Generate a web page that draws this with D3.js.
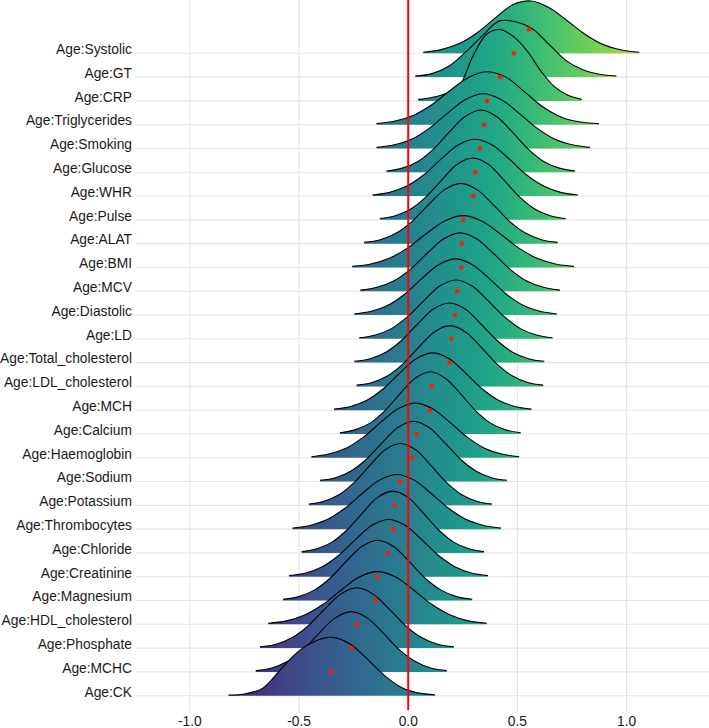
<!DOCTYPE html>
<html>
<head>
<meta charset="utf-8">
<script src="https://cdn.jsdelivr.net/npm/d3@7"></script>
<style>
html,body{margin:0;padding:0;background:#fff;}
svg{display:block;}
text{font-family:"Liberation Sans",Arial,Helvetica,sans-serif;}
</style>
</head>
<body>
<svg id="chart" width="709" height="728"></svg>
<script>
// ---------------- data ----------------
const categories = ["Age:Systolic","Age:GT","Age:CRP","Age:Triglycerides","Age:Smoking","Age:Glucose","Age:WHR","Age:Pulse","Age:ALAT","Age:BMI","Age:MCV","Age:Diastolic","Age:LD","Age:Total_cholesterol","Age:LDL_cholesterol","Age:MCH","Age:Calcium","Age:Haemoglobin","Age:Sodium","Age:Potassium","Age:Thrombocytes","Age:Chloride","Age:Creatinine","Age:Magnesium","Age:HDL_cholesterol","Age:Phosphate","Age:MCHC","Age:CK"];

// range of each ridge (estimate)
const lowerBounds = [0.069,0.032,0.046,-0.145,-0.145,-0.099,-0.163,-0.130,-0.202,-0.256,-0.219,-0.247,-0.224,-0.247,-0.236,-0.340,-0.313,-0.443,-0.404,-0.455,-0.530,-0.488,-0.545,-0.573,-0.641,-0.679,-0.698,-0.823];
const upperBounds = [1.058,0.953,0.794,0.874,0.832,0.764,0.776,0.721,0.684,0.759,0.695,0.680,0.661,0.623,0.618,0.564,0.515,0.508,0.452,0.383,0.425,0.347,0.365,0.293,0.359,0.209,0.176,0.122];

// mean of each distribution (red points)
const means = [0.553,0.483,0.421,0.361,0.348,0.328,0.307,0.298,0.252,0.245,0.243,0.224,0.214,0.197,0.188,0.107,0.099,0.038,0.017,-0.037,-0.061,-0.070,-0.094,-0.142,-0.148,-0.234,-0.259,-0.354];

// density values at 13 evenly spaced points between lower and upper bound
const densities = [
  [0.05,0.17,0.45,0.95,1.63,2.25,2.41,2.10,1.50,0.87,0.40,0.15,0.05], // Systolic
  [0.05,0.16,0.50,1.15,1.90,2.58,2.55,2.22,1.50,0.76,0.34,0.13,0.05], // GT
  [0.07,0.16,0.33,0.69,2.04,3.06,3.29,2.96,2.30,1.38,0.66,0.26,0.07], // CRP
  [0.05,0.17,0.44,0.93,1.60,2.20,2.44,2.18,1.50,0.80,0.33,0.12,0.04], // Triglycerides
  [0.05,0.17,0.44,0.95,1.63,2.26,2.52,2.26,1.63,0.95,0.44,0.17,0.05], // Smoking
  [0.06,0.19,0.50,1.08,1.86,2.57,2.87,2.57,1.86,1.08,0.50,0.19,0.06], // Glucose
  [0.05,0.17,0.46,0.98,1.70,2.35,2.62,2.35,1.70,0.98,0.46,0.17,0.05], // WHR
  [0.06,0.19,0.50,1.07,1.84,2.56,2.85,2.56,1.84,1.07,0.50,0.19,0.06], // Pulse
  [0.06,0.18,0.49,1.04,1.80,2.49,2.78,2.49,1.80,1.04,0.49,0.18,0.06], // ALAT
  [0.05,0.16,0.42,0.90,1.55,2.14,2.39,2.14,1.55,0.90,0.42,0.16,0.05], // BMI
  [0.05,0.18,0.47,1.01,1.74,2.41,2.69,2.41,1.74,1.01,0.47,0.18,0.05], // MCV
  [0.05,0.17,0.45,0.97,1.68,2.32,2.59,2.32,1.68,0.97,0.45,0.17,0.05], // Diastolic
  [0.05,0.18,0.47,1.02,1.75,2.43,2.71,2.43,1.75,1.02,0.47,0.18,0.05], // LD
  [0.06,0.18,0.48,1.03,1.78,2.47,2.75,2.47,1.78,1.03,0.48,0.18,0.06], // Total_cholesterol
  [0.06,0.18,0.49,1.05,1.81,2.51,2.80,2.51,1.81,1.05,0.49,0.18,0.06], // LDL_cholesterol
  [0.05,0.17,0.46,0.99,1.71,2.37,2.64,2.37,1.71,0.99,0.46,0.17,0.05], // MCH
  [0.06,0.19,0.50,1.08,1.86,2.57,2.87,2.57,1.86,1.08,0.50,0.19,0.06], // Calcium
  [0.05,0.17,0.44,0.95,1.63,2.26,2.52,2.26,1.63,0.95,0.44,0.17,0.05], // Haemoglobin
  [0.06,0.18,0.49,1.04,1.80,2.49,2.78,2.49,1.80,1.04,0.49,0.18,0.06], // Sodium
  [0.06,0.19,0.50,1.07,1.84,2.56,2.85,2.56,1.84,1.07,0.50,0.19,0.06], // Potassium
  [0.05,0.17,0.44,0.95,1.63,2.26,2.52,2.26,1.63,0.95,0.44,0.17,0.05], // Thrombocytes
  [0.06,0.19,0.50,1.07,1.84,2.56,2.85,2.56,1.84,1.07,0.50,0.19,0.06], // Chloride
  [0.05,0.17,0.46,0.99,1.71,2.37,2.64,2.37,1.71,0.99,0.46,0.17,0.05], // Creatinine
  [0.06,0.18,0.49,1.04,1.80,2.49,2.78,2.49,1.80,1.04,0.49,0.18,0.06], // Magnesium
  [0.05,0.16,0.43,0.91,1.57,2.18,2.43,2.18,1.57,0.91,0.43,0.16,0.05], // HDL_cholesterol
  [0.06,0.18,0.49,1.04,1.80,2.49,2.78,2.49,1.80,1.04,0.49,0.18,0.06], // Phosphate
  [0.06,0.18,0.49,1.04,1.80,2.49,2.78,2.49,1.80,1.04,0.49,0.18,0.06], // MCHC
  [0.03,0.09,0.35,1.18,2.00,2.50,2.69,2.42,1.74,0.98,0.40,0.13,0.04]  // CK
];

const xTicks = [-1, -0.5, 0, 0.5, 1];
const xTickLabels = ["-1.0", "-0.5", "0.0", "0.5", "1.0"];
const referenceLine = 0;
const fillRange = [-1.03, 1.35]; // x range covered by the viridis fill scale

// ---------------- layout ----------------
const panel = {left: 136, right: 709, top: 0, bottom: 712};
const svg = d3.select("#chart");

const x = d3.scaleLinear().domain([-1.2466, 1.3773]).range([panel.left, panel.right]);
const y = d3.scalePoint().domain(categories).range([53.3, 695.7]);
const step = y.step();
const maxD = d3.max(densities.flat());
const h = d3.scaleLinear().domain([0, maxD]).range([0, 3 * step]);

// gradient
const defs = svg.append("defs");
const grad = defs.append("linearGradient")
  .attr("id", "vir")
  .attr("gradientUnits", "userSpaceOnUse")
  .attr("x1", x(fillRange[0])).attr("x2", x(fillRange[1]))
  .attr("y1", 0).attr("y2", 0);
const nStops = 40;
for (let i = 0; i <= nStops; i++) {
  grad.append("stop")
    .attr("offset", (i / nStops * 100) + "%")
    .attr("stop-color", d3.interpolateViridis(i / nStops));
}

// grid
const grid = svg.append("g");
grid.selectAll("line.h").data(categories).join("line")
  .attr("x1", panel.left).attr("x2", panel.right)
  .attr("y1", d => y(d)).attr("y2", d => y(d))
  .attr("stroke", "#e4e4e4").attr("stroke-width", 1.1);
grid.selectAll("line.v").data(xTicks).join("line")
  .attr("x1", d => x(d)).attr("x2", d => x(d))
  .attr("y1", panel.top).attr("y2", panel.bottom)
  .attr("stroke", "#e4e4e4").attr("stroke-width", 1.1);

// ridges
const ridges = categories.map((c, i) => {
  const lo = lowerBounds[i], hi = upperBounds[i], ds = densities[i];
  const n = ds.length;
  return {cat: c, pts: ds.map((d, k) => ({x: lo + (hi - lo) * k / (n - 1), d: d}))};
});

const curve = d3.curveCatmullRom.alpha(0.5);
const gR = svg.append("g");
ridges.forEach(r => {
  const base = y(r.cat);
  const area = d3.area().curve(curve)
    .x(p => x(p.x)).y0(base).y1(p => base - h(p.d));
  const line = d3.line().curve(curve)
    .x(p => x(p.x)).y(p => base - h(p.d));
  gR.append("path").attr("d", area(r.pts)).attr("fill", "url(#vir)").attr("stroke", "none");
  gR.append("path").attr("d", line(r.pts)).attr("fill", "none")
    .attr("stroke", "#000").attr("stroke-width", 1.1).attr("stroke-linejoin", "round");
});

// reference line
svg.append("line")
  .attr("x1", x(referenceLine)).attr("x2", x(referenceLine))
  .attr("y1", panel.top).attr("y2", 710)
  .attr("stroke", "#ff0000").attr("stroke-width", 2);

// mean points (drawn one row above each baseline, as in the reference)
svg.append("g").selectAll("circle").data(categories).join("circle")
  .attr("cx", (c, i) => x(means[i]))
  .attr("cy", c => y(c) - step)
  .attr("r", 2.3)
  .attr("fill", "#ff1a0a");

// y labels
svg.append("g").selectAll("text").data(categories).join("text")
  .attr("x", 132).attr("y", d => y(d) + 0.8)
  .attr("text-anchor", "end")
  .attr("font-size", "13.8px")
  .attr("fill", "#1a1a1a")
  .text(d => d);

// x tick labels
svg.append("g").selectAll("text").data(xTicks).join("text")
  .attr("x", d => x(d)).attr("y", 725.5)
  .attr("text-anchor", "middle")
  .attr("font-size", "13.8px")
  .attr("fill", "#1a1a1a")
  .text((d, i) => xTickLabels[i]);
</script>
</body>
</html>
